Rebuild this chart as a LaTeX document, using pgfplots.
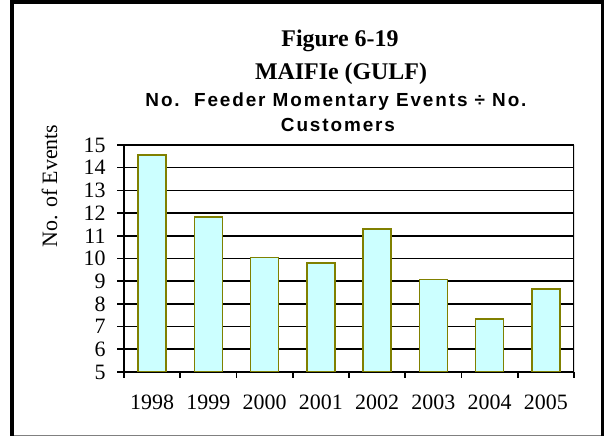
\documentclass[border=0pt]{standalone}
\usepackage{pgfplots}
\pgfplotsset{compat=1.18}
\usepackage{fontspec}
\setmainfont{Liberation Serif}
\newfontfamily\arialfont{Liberation Sans}[LetterSpace=10]
\definecolor{barfill}{HTML}{CCFFFF}
\definecolor{baredge}{HTML}{808000}
\begin{document}
\begin{tikzpicture}[x=1bp,y=1bp]
\path[use as bounding box] (0,0) rectangle (605,438);
\fill[white] (10,2) rectangle (604,436);
\draw[line width=1.2bp, gray] (12,2.5) -- (603,2.5);
\draw[line width=2.5bp] (602.5,2) -- (602.5,436);
\draw[line width=4bp] (12,2) -- (12,436) -- (604,436);
\begin{axis}[
  at={(124bp,66bp)}, anchor=south west,
  width=450bp, height=227bp, scale only axis,
  xmin=-0.5, xmax=7.5, ymin=5, ymax=15,
  ybar, bar width=28bp,
  axis line style={line width=1.6bp},
  axis x line*=bottom, axis y line*=left,
  xtick={0,...,7},
  xticklabels={1998,1999,2000,2001,2002,2003,2004,2005},
  major x tick style={draw=none},
  minor xtick={-0.5,0.5,...,7.5},
  minor x tick style={line width=1.6bp, black},
  minor tick length=6bp,
  ytick={5,...,15},
  y tick style={line width=1.6bp, black},
  major tick length=7bp,
  tick align=outside,
  ymajorgrids, grid style={line width=1.6bp, black},
  /pgf/number format/assume math mode=true,
  tick label style={font=\fontsize{22}{24}\selectfont},
  xticklabel style={yshift=-12bp},
  yticklabel style={xshift=-8bp},
]
\addplot[fill=barfill, draw=baredge, line width=1.5bp] coordinates {
(0,14.56) (1,11.82) (2,10.05) (3,9.8) (4,11.3) (5,9.07) (6,7.33) (7,8.65)};
\draw[line width=1.6bp] (axis cs:7.5,5) -- (axis cs:7.5,15);
\end{axis}
\node[anchor=base, font=\bfseries\fontsize{24}{26}\selectfont] at (340,391) {Figure 6-19};
\node[anchor=base, font=\bfseries\fontsize{24}{26}\selectfont] at (341,358) {MAIFIe (GULF)};
\node[anchor=base, font=\arialfont\bfseries\fontsize{19}{21}\selectfont] at (336,331) {No.\ \ Feeder Momentary Events \char"00F7\ No.};
\node[anchor=base, font=\arialfont\bfseries\fontsize{19}{21}\selectfont] at (338,306) {Customers};
\node[anchor=base, rotate=90, font=\fontsize{22}{24}\selectfont] at (57,252) {No. of Events};
\end{tikzpicture}
\end{document}
